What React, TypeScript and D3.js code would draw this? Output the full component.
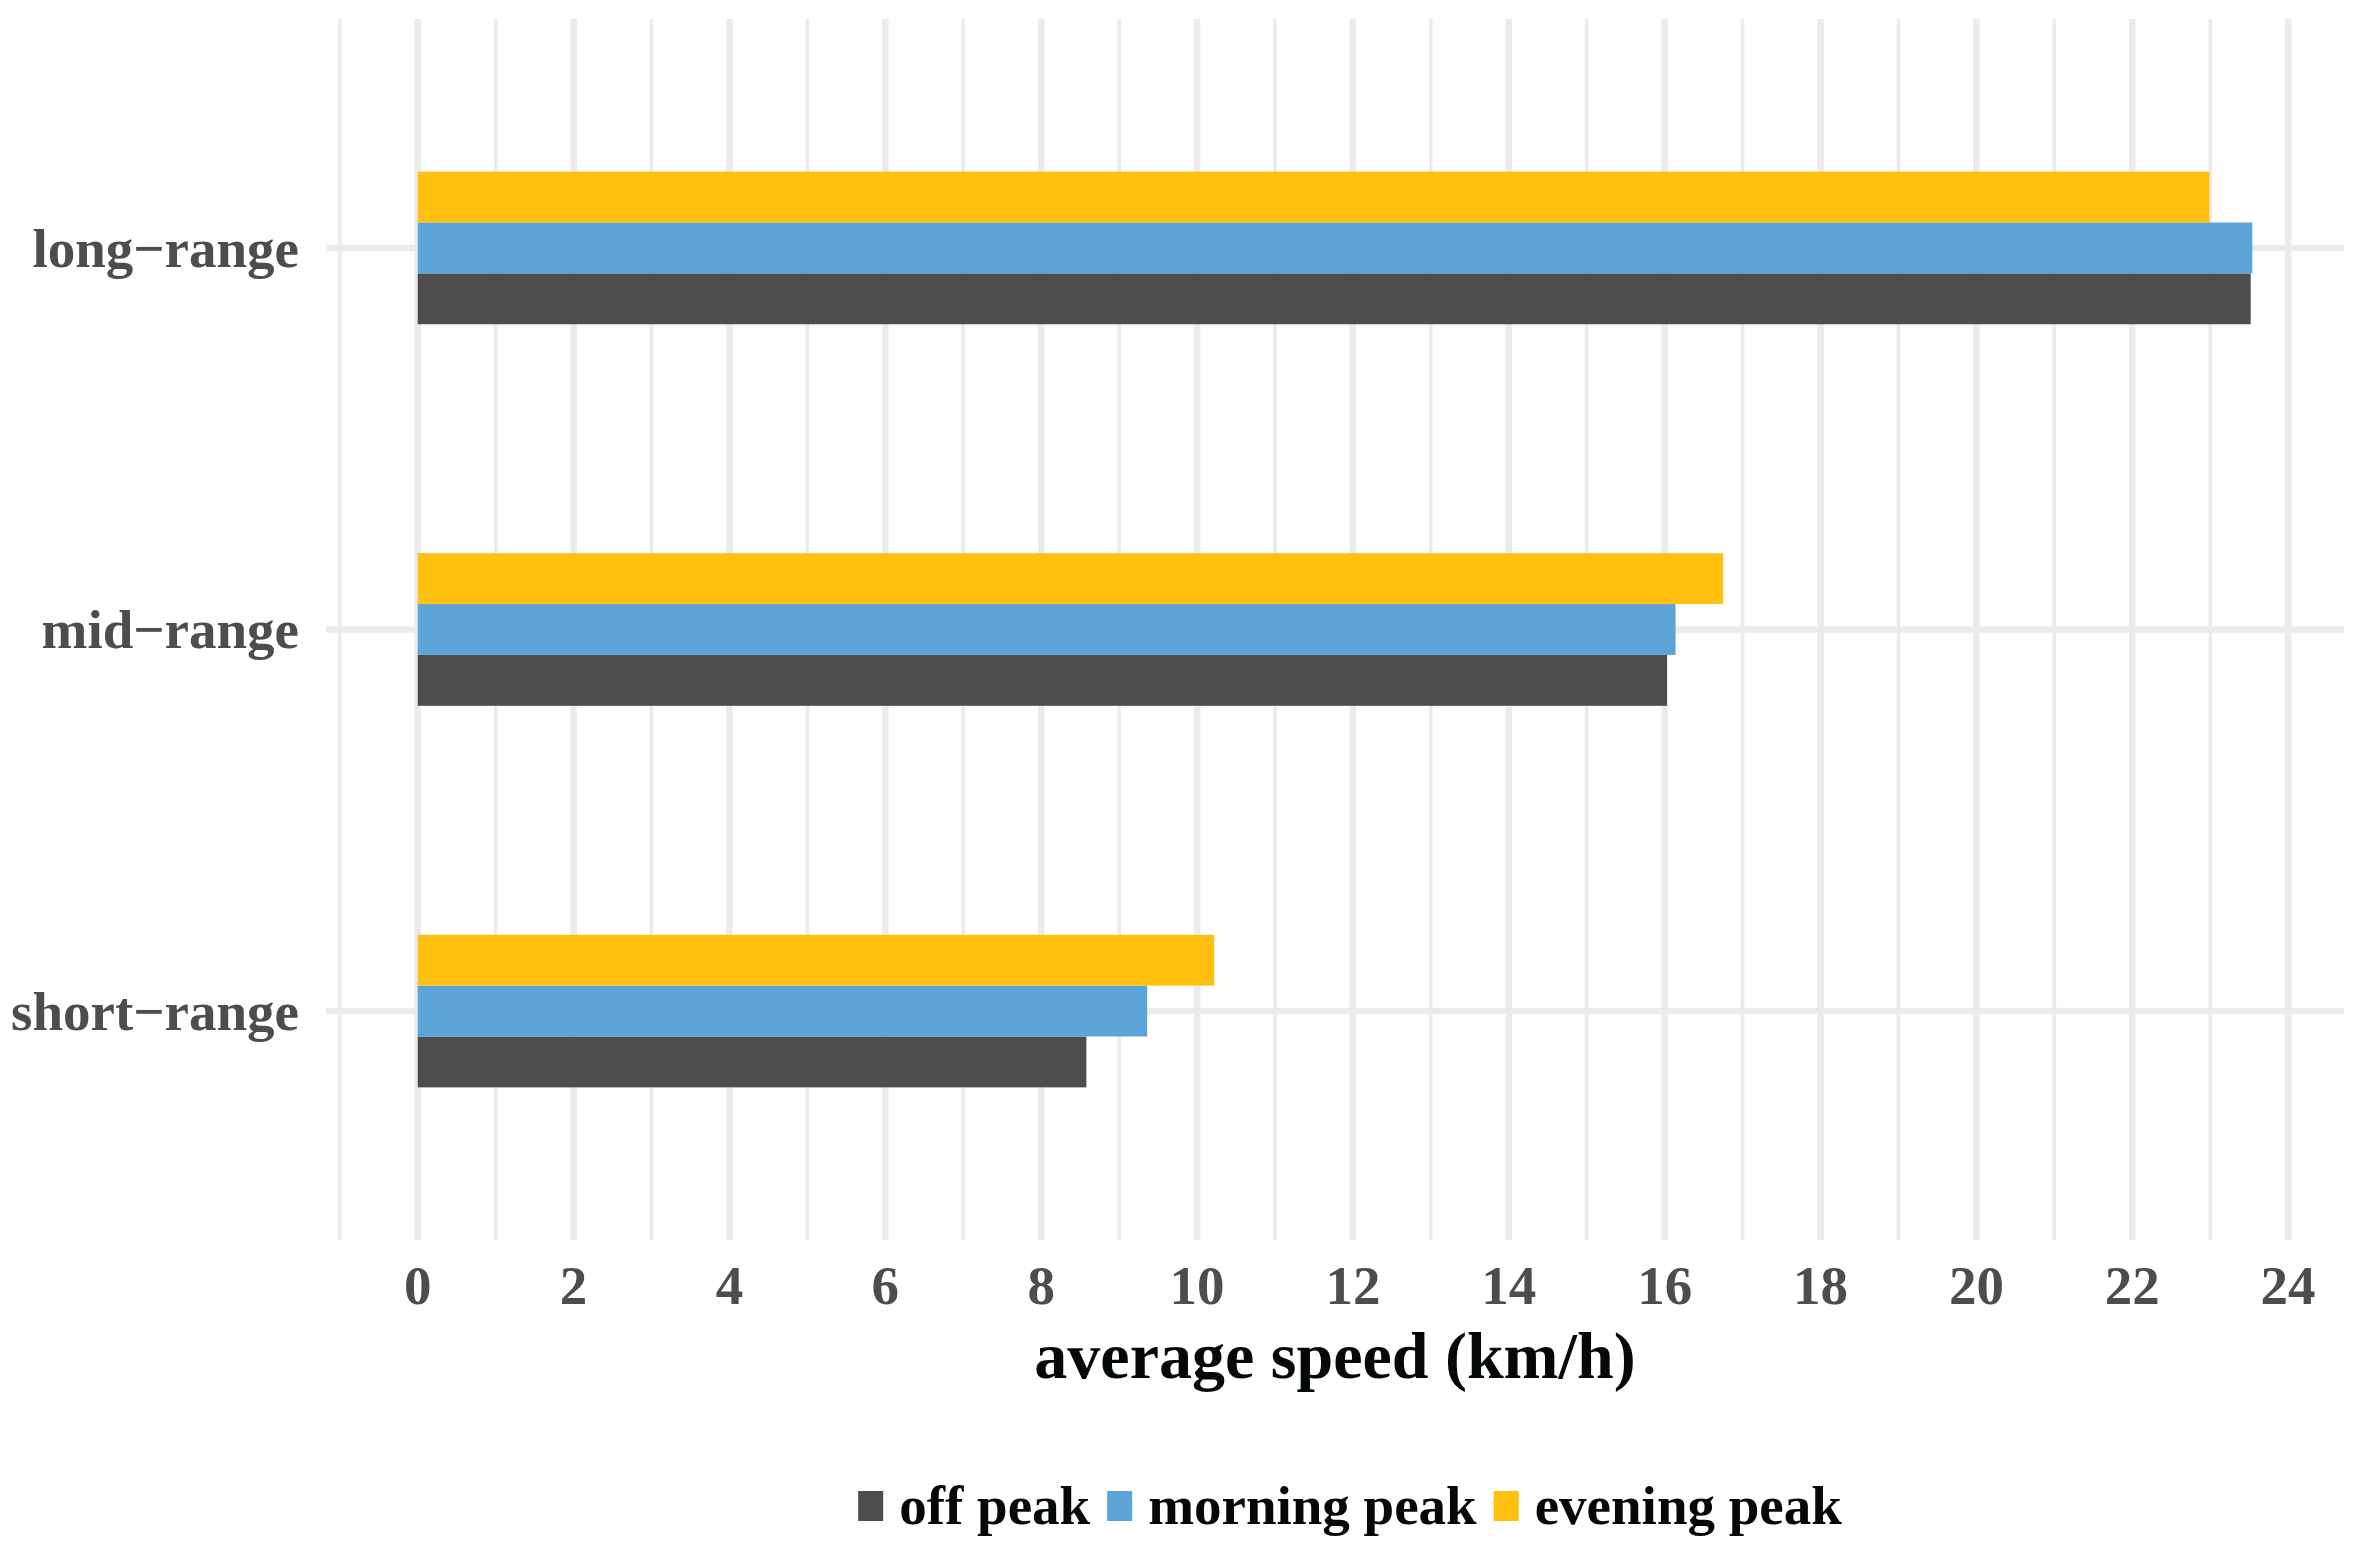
import React, { useEffect, useRef } from 'react';
import * as d3 from 'd3';

// categories listed bottom to top, as in the picture
const categories = ['short−range', 'mid−range', 'long−range'];
const seriesNames = ['off peak', 'morning peak', 'evening peak'];
const seriesColors = ['#4d4d4d', '#5ca4d8', '#ffc010'];

const offPeak = [8.58, 16.03, 23.52];
const morningPeak = [9.36, 16.14, 23.54];
const eveningPeak = [10.22, 16.75, 22.99];

const majorTicks = [0, 2, 4, 6, 8, 10, 12, 14, 16, 18, 20, 22, 24];
const minorTicks = [-1, 1, 3, 5, 7, 9, 11, 13, 15, 17, 19, 21, 23];

const W = 2364;
const H = 1545;
const FONT = '"Liberation Serif", "Times New Roman", serif';

const App: React.FC = () => {
  const svgRef = useRef<SVGSVGElement>(null);

  useEffect(() => {
    if (!svgRef.current) return;
    const svg = d3.select(svgRef.current);
    svg.selectAll('*').remove();

    const panel = { left: 326, right: 2344, top: 19, bottom: 1240 };
    const series = [offPeak, morningPeak, eveningPeak];

    // ggplot style expansion: 5% of the data range on each side
    const maxVal = 23.54;
    const pad = maxVal * 0.05;
    const x = d3.scaleLinear()
      .domain([-pad, maxVal + pad])
      .range([panel.left, panel.right]);

    // discrete axis with 0.6 units of expansion
    const y = d3.scaleLinear()
      .domain([0.4, categories.length + 0.6])
      .range([panel.bottom, panel.top]);
    const unit = Math.abs(y(1) - y(0));
    const barH = unit * 0.4 / series.length;

    const g = svg.append('g');

    // Grid lines
    g.selectAll('.minor')
      .data(minorTicks)
      .enter().append('line')
      .attr('x1', d => x(d)).attr('x2', d => x(d))
      .attr('y1', panel.top).attr('y2', panel.bottom)
      .attr('stroke', '#ebebeb')
      .attr('stroke-width', 3.6);

    g.selectAll('.major')
      .data(majorTicks)
      .enter().append('line')
      .attr('x1', d => x(d)).attr('x2', d => x(d))
      .attr('y1', panel.top).attr('y2', panel.bottom)
      .attr('stroke', '#ebebeb')
      .attr('stroke-width', 6.6);

    g.selectAll('.hgrid')
      .data(categories)
      .enter().append('line')
      .attr('x1', panel.left).attr('x2', panel.right)
      .attr('y1', (_, i) => y(i + 1)).attr('y2', (_, i) => y(i + 1))
      .attr('stroke', '#ebebeb')
      .attr('stroke-width', 6.6);

    // Bars: first series at the bottom of each group
    series.forEach((vals, s) => {
      g.selectAll(`.bar-${s}`)
        .data(vals)
        .enter().append('rect')
        .attr('x', x(0))
        .attr('width', d => x(d) - x(0))
        .attr('y', (_, i) => y(i + 1) + unit * 0.2 - (s + 1) * barH)
        .attr('height', barH)
        .attr('fill', seriesColors[s]);
    });

    // Category labels
    g.selectAll('.cat')
      .data(categories)
      .enter().append('text')
      .attr('x', 299)
      .attr('y', (_, i) => y(i + 1))
      .attr('dy', '0.34em')
      .attr('text-anchor', 'end')
      .style('font-family', FONT)
      .style('font-weight', 'bold')
      .style('font-size', '55px')
      .style('fill', '#4d4d4d')
      .text(d => d);

    // Tick labels
    g.selectAll('.tick')
      .data(majorTicks)
      .enter().append('text')
      .attr('x', d => x(d))
      .attr('y', 1304)
      .attr('text-anchor', 'middle')
      .style('font-family', FONT)
      .style('font-weight', 'bold')
      .style('font-size', '55px')
      .style('fill', '#4d4d4d')
      .text(d => String(d));

    // Axis title
    g.append('text')
      .attr('x', (panel.left + panel.right) / 2)
      .attr('y', 1378)
      .attr('text-anchor', 'middle')
      .style('font-family', FONT)
      .style('font-weight', 'bold')
      .style('font-size', '66px')
      .style('fill', '#050808')
      .text('average speed (km/h)');

    // Legend
    const legend = g.append('g');
    let cursor = 0;
    seriesNames.forEach((name, s) => {
      const item = legend.append('g').attr('transform', `translate(${cursor},0)`);
      item.append('rect')
        .attr('x', 0).attr('y', 1491)
        .attr('width', 25).attr('height', 30)
        .attr('fill', seriesColors[s]);
      const t = item.append('text')
        .attr('x', 41).attr('y', 1524)
        .style('font-family', FONT)
        .style('font-weight', 'bold')
        .style('font-size', '55px')
        .style('fill', '#050808')
        .text(name);
      const len = (t.node() as SVGTextElement).getComputedTextLength();
      cursor += 41 + len + (s < seriesNames.length - 1 ? 17 : 0);
    });
    legend.attr('transform', `translate(${1350 - cursor / 2},0)`);
  }, []);

  return (
    <svg
      ref={svgRef}
      width={W}
      height={H}
      style={{ position: 'absolute', left: 0, top: 0, background: '#fff' }}
    />
  );
};

export default App;
